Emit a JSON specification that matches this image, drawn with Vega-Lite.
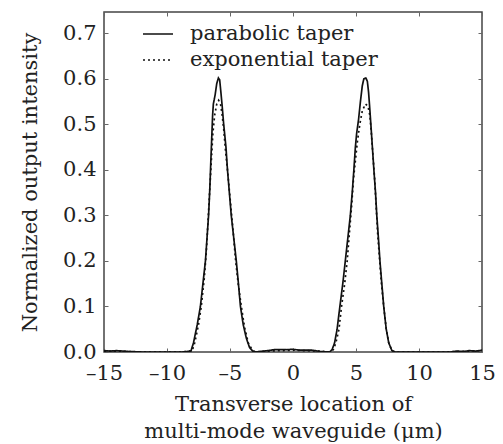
{
  "$schema": "https://vega.github.io/schema/vega-lite/v6.json",
  "width": 378,
  "height": 340,
  "autosize": "none",
  "padding": {"left": 104, "top": 12, "right": 21, "bottom": 92},
  "config": {
    "font": "DejaVu Serif",
    "view": {"stroke": "#444444", "strokeWidth": 1.5},
    "axis": {"grid": false, "domain": false, "tickSize": -4, "tickColor": "#666666", "labelFlush": false, "labelFont": "DejaVu Serif", "labelFontSize": 21, "labelColor": "#222222", "titleFont": "DejaVu Serif", "titleFontSize": 21, "titleFontWeight": "normal", "titleColor": "#222222"}
  },
  "data": {"values": [
    {"s":"parabolic taper","x":-15,"y":0.003},{"s":"parabolic taper","x":-14.5,"y":0.002},{"s":"parabolic taper","x":-14,"y":0.003},{"s":"parabolic taper","x":-13,"y":0.001},{"s":"parabolic taper","x":-12,"y":0},{"s":"parabolic taper","x":-10,"y":0},{"s":"parabolic taper","x":-8.8,"y":0},{"s":"parabolic taper","x":-8.1,"y":0.002},{"s":"parabolic taper","x":-7.9,"y":0.02},{"s":"parabolic taper","x":-7.6,"y":0.06},{"s":"parabolic taper","x":-7.35,"y":0.1},{"s":"parabolic taper","x":-7.15,"y":0.15},{"s":"parabolic taper","x":-6.95,"y":0.2},{"s":"parabolic taper","x":-6.8,"y":0.26},{"s":"parabolic taper","x":-6.7,"y":0.3},{"s":"parabolic taper","x":-6.6,"y":0.36},{"s":"parabolic taper","x":-6.52,"y":0.42},{"s":"parabolic taper","x":-6.45,"y":0.47},{"s":"parabolic taper","x":-6.38,"y":0.52},{"s":"parabolic taper","x":-6.32,"y":0.545},{"s":"parabolic taper","x":-6.18,"y":0.565},{"s":"parabolic taper","x":-6.05,"y":0.59},{"s":"parabolic taper","x":-5.92,"y":0.602},{"s":"parabolic taper","x":-5.82,"y":0.598},{"s":"parabolic taper","x":-5.72,"y":0.57},{"s":"parabolic taper","x":-5.62,"y":0.54},{"s":"parabolic taper","x":-5.5,"y":0.5},{"s":"parabolic taper","x":-5.32,"y":0.45},{"s":"parabolic taper","x":-5.2,"y":0.4},{"s":"parabolic taper","x":-5.05,"y":0.35},{"s":"parabolic taper","x":-4.9,"y":0.3},{"s":"parabolic taper","x":-4.7,"y":0.25},{"s":"parabolic taper","x":-4.5,"y":0.2},{"s":"parabolic taper","x":-4.33,"y":0.15},{"s":"parabolic taper","x":-4.17,"y":0.1},{"s":"parabolic taper","x":-3.95,"y":0.06},{"s":"parabolic taper","x":-3.7,"y":0.03},{"s":"parabolic taper","x":-3.45,"y":0.01},{"s":"parabolic taper","x":-3.2,"y":0.002},{"s":"parabolic taper","x":-3.0,"y":0},{"s":"parabolic taper","x":-2.0,"y":0.003},{"s":"parabolic taper","x":-1.5,"y":0.005},{"s":"parabolic taper","x":-0.5,"y":0.005},{"s":"parabolic taper","x":0,"y":0.006},{"s":"parabolic taper","x":0.5,"y":0.004},{"s":"parabolic taper","x":1.5,"y":0.004},{"s":"parabolic taper","x":2.2,"y":0.001},{"s":"parabolic taper","x":2.9,"y":0},{"s":"parabolic taper","x":3.1,"y":0.005},{"s":"parabolic taper","x":3.3,"y":0.02},{"s":"parabolic taper","x":3.5,"y":0.05},{"s":"parabolic taper","x":3.72,"y":0.1},{"s":"parabolic taper","x":3.95,"y":0.15},{"s":"parabolic taper","x":4.15,"y":0.2},{"s":"parabolic taper","x":4.35,"y":0.25},{"s":"parabolic taper","x":4.55,"y":0.3},{"s":"parabolic taper","x":4.7,"y":0.35},{"s":"parabolic taper","x":4.83,"y":0.4},{"s":"parabolic taper","x":4.95,"y":0.45},{"s":"parabolic taper","x":5.05,"y":0.48},{"s":"parabolic taper","x":5.2,"y":0.51},{"s":"parabolic taper","x":5.35,"y":0.55},{"s":"parabolic taper","x":5.5,"y":0.585},{"s":"parabolic taper","x":5.62,"y":0.6},{"s":"parabolic taper","x":5.78,"y":0.602},{"s":"parabolic taper","x":5.9,"y":0.595},{"s":"parabolic taper","x":6.0,"y":0.57},{"s":"parabolic taper","x":6.08,"y":0.54},{"s":"parabolic taper","x":6.18,"y":0.5},{"s":"parabolic taper","x":6.3,"y":0.45},{"s":"parabolic taper","x":6.42,"y":0.4},{"s":"parabolic taper","x":6.55,"y":0.35},{"s":"parabolic taper","x":6.65,"y":0.3},{"s":"parabolic taper","x":6.78,"y":0.25},{"s":"parabolic taper","x":6.9,"y":0.2},{"s":"parabolic taper","x":7.05,"y":0.15},{"s":"parabolic taper","x":7.2,"y":0.1},{"s":"parabolic taper","x":7.4,"y":0.05},{"s":"parabolic taper","x":7.6,"y":0.02},{"s":"parabolic taper","x":7.85,"y":0.003},{"s":"parabolic taper","x":8.1,"y":0},{"s":"parabolic taper","x":10,"y":0},{"s":"parabolic taper","x":12.5,"y":0},{"s":"parabolic taper","x":13,"y":0.002},{"s":"parabolic taper","x":13.5,"y":0.001},{"s":"parabolic taper","x":14,"y":0.003},{"s":"parabolic taper","x":14.5,"y":0.002},{"s":"parabolic taper","x":15,"y":0.004},
    {"s":"exponential taper","x":-15,"y":0.002},{"s":"exponential taper","x":-14,"y":0.002},{"s":"exponential taper","x":-12,"y":0},{"s":"exponential taper","x":-8.8,"y":0},{"s":"exponential taper","x":-8.0,"y":0.003},{"s":"exponential taper","x":-7.8,"y":0.02},{"s":"exponential taper","x":-7.5,"y":0.06},{"s":"exponential taper","x":-7.28,"y":0.1},{"s":"exponential taper","x":-7.05,"y":0.16},{"s":"exponential taper","x":-6.88,"y":0.22},{"s":"exponential taper","x":-6.72,"y":0.3},{"s":"exponential taper","x":-6.6,"y":0.36},{"s":"exponential taper","x":-6.48,"y":0.42},{"s":"exponential taper","x":-6.36,"y":0.48},{"s":"exponential taper","x":-6.22,"y":0.52},{"s":"exponential taper","x":-6.05,"y":0.545},{"s":"exponential taper","x":-5.9,"y":0.553},{"s":"exponential taper","x":-5.75,"y":0.545},{"s":"exponential taper","x":-5.62,"y":0.52},{"s":"exponential taper","x":-5.5,"y":0.49},{"s":"exponential taper","x":-5.35,"y":0.44},{"s":"exponential taper","x":-5.2,"y":0.4},{"s":"exponential taper","x":-5.0,"y":0.34},{"s":"exponential taper","x":-4.8,"y":0.28},{"s":"exponential taper","x":-4.55,"y":0.2},{"s":"exponential taper","x":-4.35,"y":0.15},{"s":"exponential taper","x":-4.1,"y":0.1},{"s":"exponential taper","x":-3.85,"y":0.055},{"s":"exponential taper","x":-3.55,"y":0.02},{"s":"exponential taper","x":-3.25,"y":0.005},{"s":"exponential taper","x":-3.0,"y":0},{"s":"exponential taper","x":-2,"y":0.002},{"s":"exponential taper","x":0,"y":0.004},{"s":"exponential taper","x":2,"y":0.002},{"s":"exponential taper","x":2.9,"y":0},{"s":"exponential taper","x":3.2,"y":0.005},{"s":"exponential taper","x":3.4,"y":0.02},{"s":"exponential taper","x":3.65,"y":0.05},{"s":"exponential taper","x":3.85,"y":0.1},{"s":"exponential taper","x":4.1,"y":0.15},{"s":"exponential taper","x":4.3,"y":0.2},{"s":"exponential taper","x":4.5,"y":0.27},{"s":"exponential taper","x":4.65,"y":0.32},{"s":"exponential taper","x":4.8,"y":0.38},{"s":"exponential taper","x":4.95,"y":0.42},{"s":"exponential taper","x":5.1,"y":0.46},{"s":"exponential taper","x":5.3,"y":0.5},{"s":"exponential taper","x":5.5,"y":0.53},{"s":"exponential taper","x":5.75,"y":0.545},{"s":"exponential taper","x":5.95,"y":0.54},{"s":"exponential taper","x":6.1,"y":0.52},{"s":"exponential taper","x":6.22,"y":0.48},{"s":"exponential taper","x":6.35,"y":0.43},{"s":"exponential taper","x":6.48,"y":0.38},{"s":"exponential taper","x":6.6,"y":0.32},{"s":"exponential taper","x":6.72,"y":0.26},{"s":"exponential taper","x":6.88,"y":0.2},{"s":"exponential taper","x":7.02,"y":0.15},{"s":"exponential taper","x":7.2,"y":0.1},{"s":"exponential taper","x":7.4,"y":0.05},{"s":"exponential taper","x":7.6,"y":0.02},{"s":"exponential taper","x":7.85,"y":0.003},{"s":"exponential taper","x":8.1,"y":0},{"s":"exponential taper","x":12,"y":0},{"s":"exponential taper","x":14,"y":0.002},{"s":"exponential taper","x":15,"y":0.003}
  ]},
  "layer": [
    {
      "mark": {"type": "line", "color": "#111111", "strokeWidth": 1.7, "clip": true},
      "encoding": {
        "x": {"field": "x", "type": "quantitative", "scale": {"domain": [-15, 15], "nice": false},
              "axis": {"orient": "bottom", "values": [-15,-10,-5,0,5,10,15], "labelPadding": 14, "labelExpr": "replace(datum.label, '−', '–')",
                       "title": ["Transverse location of", "multi-mode waveguide (μm)"], "titlePadding": 10, "titleLineHeight": 27}},
        "y": {"field": "y", "type": "quantitative", "scale": {"domain": [0, 0.747], "nice": false},
              "axis": {"orient": "left", "values": [0,0.1,0.2,0.3,0.4,0.5,0.6,0.7], "format": ".1f", "labelPadding": 12, "title": "Normalized output intensity", "titlePadding": 22}},
        "strokeDash": {"field": "s", "type": "nominal",
                       "scale": {"domain": ["parabolic taper", "exponential taper"], "range": [[1, 0], [2, 3]]},
                       "legend": {"orient": "none", "legendX": 38, "legendY": 6, "title": null, "symbolType": "stroke", "symbolSize": 900, "symbolStrokeColor": "#111111", "symbolStrokeWidth": 1.7, "labelFont": "DejaVu Serif", "labelFontSize": 21, "labelColor": "#222222", "labelLimit": 0, "rowPadding": -6, "labelOffset": 16}},
        "detail": {"field": "s"}
      }
    },
    {
      "mark": {"type": "point", "opacity": 0},
      "encoding": {
        "x": {"field": "x", "type": "quantitative", "scale": {"domain": [-15, 15], "nice": false},
              "axis": {"orient": "top", "values": [-15,-10,-5,0,5,10,15], "labels": false, "title": null}},
        "y": {"field": "y", "type": "quantitative", "scale": {"domain": [0, 0.747], "nice": false},
              "axis": {"orient": "right", "values": [0,0.1,0.2,0.3,0.4,0.5,0.6,0.7], "labels": false, "title": null}}
      }
    }
  ],
  "resolve": {"axis": {"x": "independent", "y": "independent"}}
}
